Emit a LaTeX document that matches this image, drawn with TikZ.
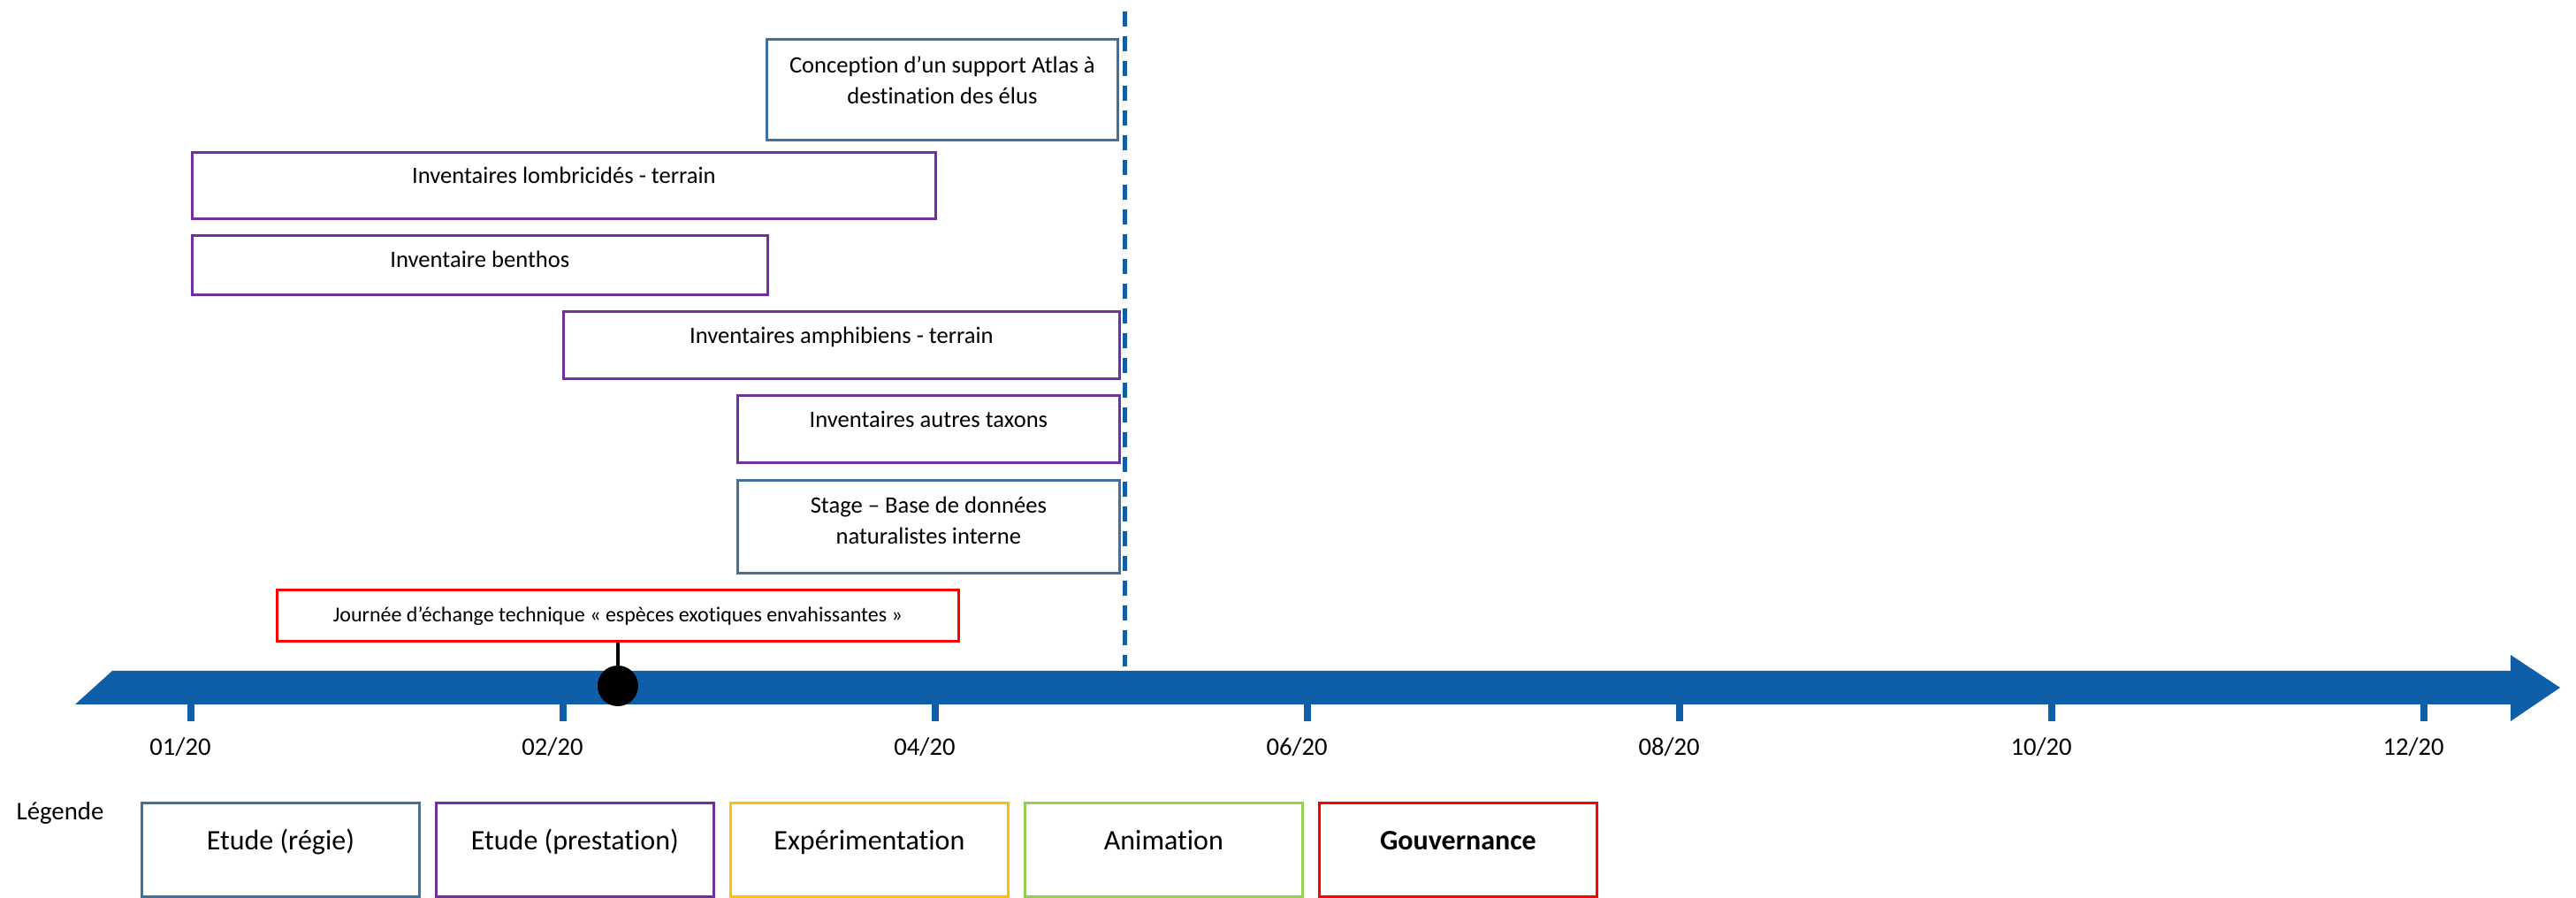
\documentclass[tikz,border=0pt]{standalone}
\usepackage{fontspec}
\setmainfont{Carlito}[Ligatures=NoCommon]
\definecolor{axisblue}{HTML}{0E5EA8}
\definecolor{regie}{HTML}{41719C}
\definecolor{presta}{HTML}{7030A0}
\definecolor{experim}{HTML}{FFC000}
\definecolor{anim}{HTML}{92D050}
\definecolor{gouv}{HTML}{FF0000}

\begin{document}
\begin{tikzpicture}[x=5pt,y=5pt,
  tache/.style={draw=#1,line width=1.4pt,anchor=north west,inner sep=0pt,align=center,font=\fontsize{13.3}{17.5}\selectfont},
  legbox/.style={draw=#1,line width=1.4pt,anchor=north west,inner sep=0pt,minimum width=157pt,text height=26.65pt,text depth=26.35pt,font=\fontsize{16}{19}\selectfont},
  mois/.style={font=\fontsize{14.3}{17}\selectfont}]
\useasboundingbox (0,0) rectangle (291.4,101.6);

% Timeline
\fill[axisblue] (12.7,25.7) -- (284.0,25.7) -- (284.0,27.5) -- (289.6,23.8) -- (284.0,20.0) -- (284.0,21.9) -- (8.5,21.9) -- cycle;
\foreach \m [count=\i from 0] in {01,02,04,06,08,10,12} {
  \draw[axisblue,line width=4pt] (21.6+42.1*\i,22.0) -- (21.6+42.1*\i,20.0);
  \node[mois] (m\m) at (20.4+42.1*\i,17.05) {\m/20};
}

% Today
\draw[axisblue,line width=2.5pt,dash pattern=on 8.5pt off 5.5pt] (127.2,100.3) -- (127.2,26.2);

% Activities
\node[tache=regie,minimum width=198.5pt,text height=36.8pt,text depth=20.2pt] (atlas) at (86.6,97.3) {Conception d’un support Atlas à\\destination des élus};
\node[tache=presta,minimum width=420.5pt,text height=17.8pt,text depth=19.7pt] (lombric) at (21.6,84.5) {Inventaires lombricidés - terrain};
\node[tache=presta,minimum width=325.5pt,text height=18.3pt,text depth=15.2pt] (benthos) at (21.6,75.1) {Inventaire benthos};
\node[tache=presta,minimum width=314.5pt,text height=18.3pt,text depth=19.7pt] (amphib) at (63.6,66.5) {Inventaires amphibiens - terrain};
\node[tache=presta,minimum width=216pt,text height=18.3pt,text depth=19.7pt] (taxons) at (83.3,57.0) {Inventaires autres taxons};
\node[tache=regie,minimum width=216pt,text height=36.3pt,text depth=16.2pt] (stage) at (83.3,47.4) {Stage – Base de données\\naturalistes interne};

% Milestone
\node[tache=gouv,minimum width=385.5pt,text height=17.85pt,text depth=11.15pt,font=\fontsize{12}{14}\selectfont] (journee) at (31.2,35.0) {Journée d’échange technique « espèces exotiques envahissantes »};
\node[circle,fill=black,minimum size=23pt,inner sep=0pt] (jalon) at (journee.south |- 0,24.0) {};
\draw[line width=2pt] (journee.south) -- (jalon.north);

% Legend
\node[font=\fontsize{14.4}{17}\selectfont] (legende) at (6.8,9.6) {Légende};
\foreach \c/\t [count=\i from 0] in {regie/Etude (régie),presta/Etude (prestation),experim/Expérimentation,anim/Animation,gouv/\textbf{Gouvernance}}
  \node[legbox=\c] (leg\i) at (15.9+33.3*\i,10.9) {\t};
\end{tikzpicture}
\end{document}
